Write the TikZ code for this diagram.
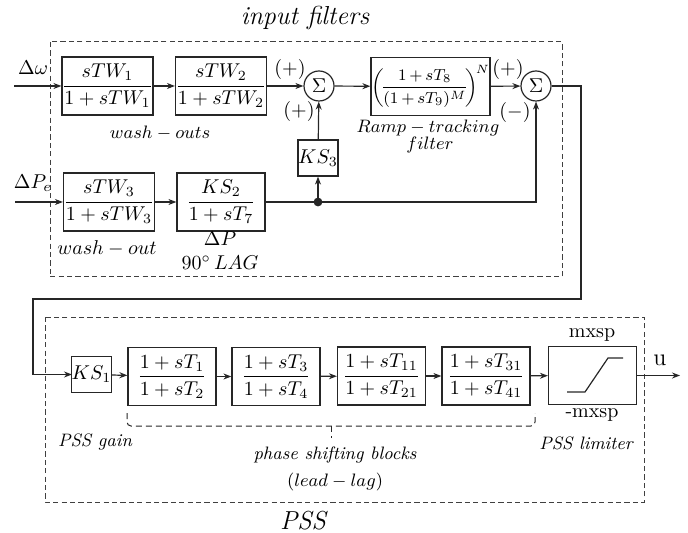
\documentclass[tikz,border=0pt]{standalone}
\usepackage{amsmath}
\usetikzlibrary{arrows.meta}
\tikzset{
  blk/.style={draw, line width=0.6pt, minimum width=44pt, minimum height=29pt, inner sep=0pt},
  smallblk/.style={draw, line width=0.6pt, minimum width=20pt, minimum height=18pt, inner sep=0pt},
  sumnode/.style={draw, circle, line width=0.6pt, minimum size=15pt, inner sep=0pt},
  frame/.style={line width=0.5pt, draw=black!75, dash pattern=on 2.6pt off 1.6pt},
  lbl/.style={inner sep=0pt}
}
\begin{document}
\begin{tikzpicture}[x=0.5pt, y=-0.5pt, >={Stealth[length=4pt,width=3pt]}, line width=0.6pt, draw=black!85]
    \useasboundingbox (0,0) rectangle (688,533);
    % input filters
    \draw[frame] (50,42) rectangle (562,277);
    \node[lbl] (tin) at (305,18) {\fontsize{13}{15}\selectfont\itshape input filters};
    \node[blk] (w1) at (107.5,86) {$\dfrac{sTW_1}{1+sTW_1}$};
    \node[blk] (w2) at (221,86) {$\dfrac{sTW_2}{1+sTW_2}$};
    \node[sumnode] (s1) at (319,86) {$\Sigma$};
    \node[blk, minimum width=50.5pt, line width=0.9pt] (ramp) at (430.5,86.5)
      {\footnotesize$\left(\!\dfrac{1\,{+}\,sT_8}{(1\,{+}\,sT_9)^M}\!\right)^{\!N}$};
    \node[sumnode] (s2) at (536,86) {$\Sigma$};
    \node[smallblk] (ks3) at (318,158) {$KS_3$};
    \node[blk] (w3) at (109,202) {$\dfrac{sTW_3}{1+sTW_3}$};
    \node[blk] (lag) at (221,202) {$\dfrac{KS_2}{1+sT_7}$};
    \fill[black!85] (318,202) circle (2.2pt) coordinate (jn);
    \coordinate (win) at (14,86);
    \coordinate (pin) at (15,202);
    \node[lbl] (dw) at (33,68) {$\Delta\omega$};
    \node[lbl] (dp) at (33,183) {$\Delta P_e$};
    \node[lbl] at (290,70) {$(+)$};
    \node[lbl] at (299,112) {$(+)$};
    \node[lbl] at (508,70) {$(+)$};
    \node[lbl] at (515,113) {$(-)$};
    \node[lbl] at (160,133) {\small $wash-outs$};
    \node[lbl] at (107,248) {$wash-out$};
    \node[lbl] at (220,239) {$\Delta P$};
    \node[lbl] at (220,263) {$90^{\circ}\,LAG$};
    \node[lbl] at (428,128) {\small $Ramp-tracking$};
    \node[lbl] at (430,145) {\small $filter$};
    \draw[->] (win) -- (w1);
    \draw[->] (w1) -- (w2);
    \draw[->] (w2) -- (s1);
    \draw[->] (s1) -- (ramp);
    \draw[->] (ramp) -- (s2);
    \draw[->] (pin) -- (w3);
    \draw[->] (w3) -- (lag);
    \draw (lag) -- (jn);
    \draw[->] (jn) -| (s2.south);
    \draw[->] (jn) -- (ks3);
    \draw[->] (ks3) -- (s1);
    % link to PSS
    \draw[->] (s2.east) -- (581,86) -- (581,299) -- (33,299) -- (33,374.5) -- (72,374.5);
    % PSS
    \draw[frame] (45,317) rectangle (644,502);
    \node[smallblk] (ks1) at (91.5,374.5) {$KS_1$};
    \node[blk] (t1) at (172,376.5) {$\dfrac{1+sT_1}{1+sT_2}$};
    \node[blk] (t3) at (276,376.5) {$\dfrac{1+sT_3}{1+sT_4}$};
    \node[blk] (t11) at (381.5,376) {$\dfrac{1+sT_{11}}{1+sT_{21}}$};
    \node[blk] (t31) at (486,376) {$\dfrac{1+sT_{31}}{1+sT_{41}}$};
    \node[blk] (lim) at (592.5,375.5) {};
    \draw (567,392) -- (585,392) -- (608,358) -- (623,358);
    \coordinate (uout) at (680,375.5);
    \foreach \a/\b in {ks1/t1, t1/t3, t3/t11, t11/t31, t31/lim}
      \draw[->] (\a) -- (\b);
    \draw[->] (lim) -- (uout);
    \node[lbl] at (660,360) {\large u};
    \node[lbl] at (592,335) {mxsp};
    \node[lbl] at (592,415) {-mxsp};
    \node[lbl] at (586,443) {\small\itshape PSS limiter};
    \node[lbl] at (95,442) {\small\itshape PSS gain};
    \draw[line width=0.5pt, densely dashed, rounded corners=2pt] (127,413) -- (127,426) -- (535,426) -- (535,413);
    \draw[line width=0.5pt, densely dashed] (331,426) -- (331,438);
    \node[lbl] at (335,455) {\small\itshape phase shifting blocks};
    \node[lbl] at (335,482) {\small $(lead-lag)$};
    \node[lbl] (tpss) at (303,521) {\fontsize{13}{15}\selectfont\itshape PSS};
\end{tikzpicture}
\end{document}
